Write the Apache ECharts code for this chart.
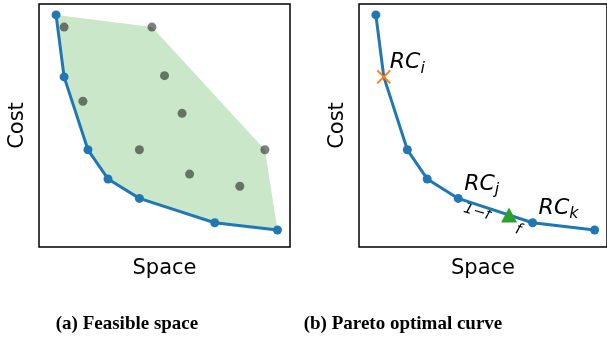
<!DOCTYPE html>
<html><head><meta charset="utf-8">
<script src="https://cdn.jsdelivr.net/npm/echarts@6/dist/echarts.min.js"></script>
<style>html,body{margin:0;padding:0;background:#fff}#chart{width:607px;height:341px}</style>
</head><body><div id="chart"></div>
<script>
// Pareto-optimal configurations (space, cost)
const paretoSpace = [0.68, 1.0, 1.95, 2.75, 4.0, 7.0, 9.5];
const paretoCost  = [9.55, 7.0, 4.0, 2.8, 2.0, 1.0, 0.7];
// Dominated configurations inside the feasible region
const otherSpace = [1.0, 4.5, 5.0, 1.75, 5.7, 4.0, 6.0, 8.0, 9.0];
const otherCost  = [9.05, 9.05, 7.05, 6.0, 5.5, 4.0, 3.0, 2.5, 4.0];
// Dominated points that lie on the upper boundary of the feasible hull
const hullUpper = [1, 8];
// Highlighted configurations on the curve and their subscripts
const rcIndex = [1, 4, 5];
const rcSub = ['i', 'j', 'k'];
// New configuration between RC_j and RC_k
const mixSpace = [6.05];
const mixCost  = [1.32];
const mixLabels = ['1\u2212f', 'f'];
const captions = ['(a) Feasible space', '(b) Pareto optimal curve'];

const BLUE = '#1f77b4', ORANGE = '#ff7f0e', GREEN = '#2ca02c';
const FONT = 'DejaVu Sans';

const pareto = paretoSpace.map((x, i) => [x, paretoCost[i]]);
const others = otherSpace.map((x, i) => [x, otherCost[i]]);
const hull = [pareto[0]].concat(hullUpper.map(i => others[i]), pareto.slice().reverse());

const rcRich = {
  r: {fontFamily: FONT, fontStyle: 'italic', fontSize: 22, color: '#000', lineHeight: 25, verticalAlign: 'top'},
  s: {fontFamily: FONT, fontStyle: 'italic', fontSize: 16, color: '#000', lineHeight: 25, verticalAlign: 'bottom'}
};

const gridBox = {top: 4, height: 243, width: 251, show: true, borderColor: '#000', borderWidth: 1.5,
                 backgroundColor: 'transparent', containLabel: false};
function xAx(gi) {
  return {gridIndex: gi, type: 'value', min: 0, max: 10, name: 'Space', nameLocation: 'middle', nameGap: 11,
          nameTextStyle: {fontFamily: FONT, fontSize: 21, color: '#000', verticalAlign: 'top'},
          axisLine: {show: false}, axisTick: {show: false}, axisLabel: {show: false}, splitLine: {show: false}};
}
function yAx(gi) {
  return {gridIndex: gi, type: 'value', min: 0, max: 10, name: 'Cost', nameLocation: 'middle', nameGap: 11,
          nameTextStyle: {fontFamily: FONT, fontSize: 21, color: '#000'},
          axisLine: {show: false}, axisTick: {show: false}, axisLabel: {show: false}, splitLine: {show: false}};
}

function captionGraphics() {
  return captions.map((t, i) => ({
    id: 'cap' + i, type: 'text', x: i === 0 ? 127 : 403, y: 324,
    style: {text: t, fontFamily: 'Liberation Serif', fontWeight: 'bold', fontSize: 19, fill: '#000',
            align: 'center', verticalAlign: 'middle'}
  }));
}

const chart = echarts.init(document.getElementById('chart'), null, {renderer: 'canvas'});
chart.setOption({
  animation: false,
  backgroundColor: '#fff',
  grid: [Object.assign({left: 39}, gridBox), Object.assign({left: 359}, gridBox)],
  xAxis: [xAx(0), xAx(1)],
  yAxis: [yAx(0), yAx(1)],
  graphic: captionGraphics(),
  series: [
    {
      type: 'custom', xAxisIndex: 0, yAxisIndex: 0, z: 1, silent: true,
      data: [0],
      renderItem: function (params, api) {
        return {type: 'polygon', shape: {points: hull.map(p => api.coord(p))},
                style: {fill: 'rgba(44,160,44,0.25)', stroke: 'none'}};
      }
    },
    {type: 'scatter', xAxisIndex: 0, yAxisIndex: 0, z: 2, symbolSize: 9,
     itemStyle: {color: '#000', opacity: 0.5}, data: others},
    {type: 'line', xAxisIndex: 0, yAxisIndex: 0, z: 3, symbol: 'circle', symbolSize: 9,
     lineStyle: {color: BLUE, width: 3}, itemStyle: {color: BLUE}, data: pareto},
    {type: 'line', xAxisIndex: 1, yAxisIndex: 1, z: 3, symbol: 'circle', symbolSize: 9,
     lineStyle: {color: BLUE, width: 3}, itemStyle: {color: BLUE},
     data: pareto.map((p, i) => i === rcIndex[0] ? {value: p, symbol: 'none'} : p)},
    {
      type: 'custom', xAxisIndex: 1, yAxisIndex: 1, z: 4, silent: true,
      data: [pareto[rcIndex[0]]],
      renderItem: function (params, api) {
        const c = api.coord([api.value(0), api.value(1)]);
        const h = 6.5;
        const st = {stroke: ORANGE, lineWidth: 2, fill: 'none'};
        return {type: 'group', children: [
          {type: 'line', shape: {x1: c[0] - h, y1: c[1] - h, x2: c[0] + h, y2: c[1] + h}, style: st},
          {type: 'line', shape: {x1: c[0] - h, y1: c[1] + h, x2: c[0] + h, y2: c[1] - h}, style: st}
        ]};
      }
    },
    {type: 'scatter', xAxisIndex: 1, yAxisIndex: 1, z: 5, symbol: 'triangle', symbolSize: [16, 15],
     itemStyle: {color: GREEN, opacity: 1}, data: mixSpace.map((x, i) => [x, mixCost[i]])},
    // RC labels anchored on the highlighted curve points
    {type: 'scatter', xAxisIndex: 1, yAxisIndex: 1, z: 6, symbolSize: 0, silent: true,
     itemStyle: {opacity: 1},
     label: {show: true, position: 'right', distance: 0, offset: [6, -13], color: '#000',
             textBorderWidth: 0, rich: rcRich},
     data: rcIndex.map((idx, k) => ({value: pareto[idx], label: {formatter: '{r|RC}{s|' + rcSub[k] + '}'}}))}
  ]
});

// Split fractions written along the segment, either side of the new point
const mp = chart.convertToPixel({gridIndex: 1}, [mixSpace[0], mixCost[0]]);
const fracOffsets = [[-32, -3], [9, 15]];
const rot = -17 * Math.PI / 180;
chart.setOption({
  graphic: captionGraphics().concat(mixLabels.map((t, i) => ({
    id: 'frac' + i, type: 'text', x: mp[0] + fracOffsets[i][0], y: mp[1] + fracOffsets[i][1], rotation: rot,
    style: {text: t, fontFamily: FONT, fontStyle: 'italic', fontSize: 15, fill: '#000',
            align: 'center', verticalAlign: 'middle'}
  })))
});
</script>
</body></html>
